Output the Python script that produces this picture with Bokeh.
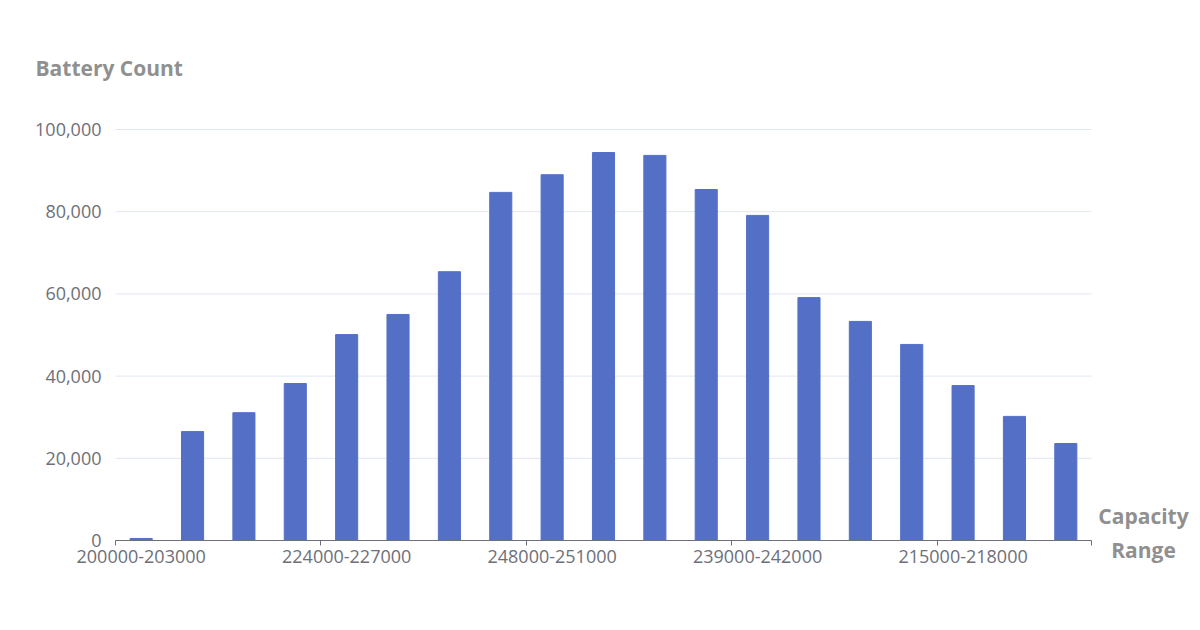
from bokeh.plotting import figure
from bokeh.models import Range1d, FixedTicker, NumeralTickFormatter, Label
from bokeh.embed import file_html
from bokeh.resources import INLINE

categories = [
    "200000-203000", "206000-209000", "212000-215000", "218000-221000",
    "224000-227000", "230000-233000", "236000-239000", "242000-245000",
    "248000-251000", "254000-257000", "251000-254000", "245000-248000",
    "239000-242000", "233000-236000", "227000-230000", "221000-224000",
    "215000-218000", "209000-212000", "203000-206000",
]
counts = [500, 26500, 31100, 38200, 50100, 55000, 65400, 84700, 89000, 94400,
          93700, 85400, 79100, 59100, 53300, 47700, 37700, 30200, 23600]
label_every = 4
y_ticks = [0, 20000, 40000, 60000, 80000, 100000]
y_max = 100000
y_title = "Battery Count"
x_title = ["Capacity", "Range"]

n = len(categories)
xs = [i + 0.5 for i in range(n)]

# layout: the plotting area (in page pixels) inside a full-canvas frame
W, H = 1196, 626
L, R, T, B = 115, 1091, 129, 540
ux = n / (R - L)          # data units per pixel
uy = y_max / (B - T)

p = figure(width=W, height=H, output_backend="svg", toolbar_location=None,
           x_range=Range1d(-L * ux, n + (W - R) * ux),
           y_range=Range1d(-(H - B) * uy, y_max + T * uy),
           min_border_left=0, min_border_right=0, min_border_top=0,
           min_border_bottom=0)
p.outline_line_color = None
p.background_fill_color = "white"
p.border_fill_color = "white"
p.xgrid.visible = False
p.ygrid.visible = False

tick_font = "Open Sans"
grey = "#6e7079"

# grid lines across the plotting area only
p.segment(x0=[0] * len(y_ticks), x1=[n] * len(y_ticks), y0=y_ticks, y1=y_ticks,
          line_color="#e0e6f1", line_width=1)

p.vbar(x=xs, top=counts, width=0.43, color="#5470c6")

# x axis
xa = p.xaxis[0]
xa.fixed_location = 0
xa.bounds = (0, n)
lab_idx = list(range(0, n, label_every))
xa.ticker = FixedTicker(ticks=[xs[i] for i in lab_idx],
                        minor_ticks=lab_idx + [n])
xa.major_label_overrides = {xs[i]: categories[i] for i in lab_idx}
xa.major_tick_line_color = None
xa.major_tick_out = 0
xa.major_tick_in = 0
xa.minor_tick_out = 5
xa.minor_tick_in = 0
xa.minor_tick_line_color = grey
xa.axis_line_color = grey
xa.major_label_text_font = tick_font
xa.major_label_text_font_size = "18px"
xa.major_label_text_color = grey
xa.major_label_standoff = 4

# y axis
ya = p.yaxis[0]
ya.fixed_location = 0
ya.bounds = (0, y_max)
ya.ticker = FixedTicker(ticks=y_ticks, minor_ticks=[])
ya.formatter = NumeralTickFormatter(format="0,0")
ya.axis_line_color = None
ya.major_tick_line_color = None
ya.minor_tick_line_color = None
ya.major_label_text_font = tick_font
ya.major_label_text_font_size = "18px"
ya.major_label_text_color = grey
ya.major_label_standoff = 8

title_col = "#909090"

def lab(text, px, py, align):
    p.add_layout(Label(x=(px - L) * ux, y=(B - py) * uy,
                       text=text, text_font=tick_font,
                       text_font_style="bold", text_font_size="21px",
                       text_color=title_col, text_baseline="middle",
                       text_align=align))

lab(y_title, 35, 67, "left")
lab(x_title[0], 1143, 515, "center")
lab(x_title[1], 1143, 549, "center")

open("out.html", "w").write(file_html(p, INLINE))
